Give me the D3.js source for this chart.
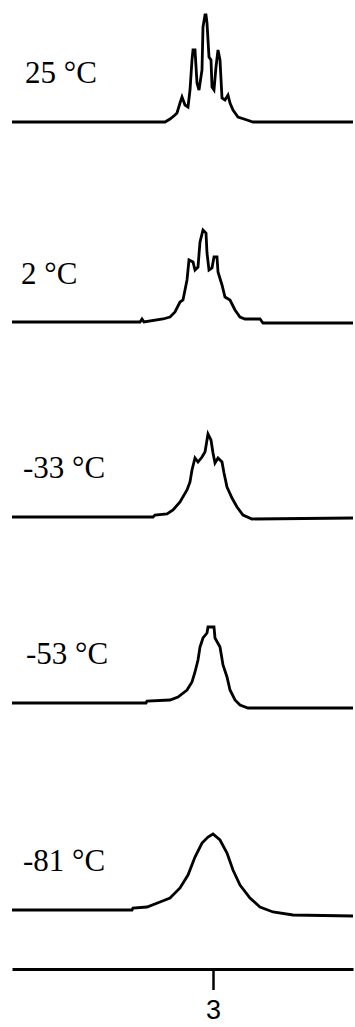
<!DOCTYPE html>
<meta charset="utf-8">
<title>Variable temperature spectra</title>
<script src="https://d3js.org/d3.v7.min.js"></script>
<style>
  body { margin: 0; background: #fff; }
</style>
<body>
<svg width="355" height="1027"></svg>
<script>

// temperatures, top to bottom
var temps = ["25 °C", "2 °C", "-33 °C", "-53 °C", "-81 °C"];

// each trace: [shift (ppm), intensity above its left baseline]
var t25 = [[5.01,0],[3.48,0],[3.43,3],[3.38,7],[3.36,9],[3.33,19],[3.31,25],[3.28,17],[3.25,15],
  [3.23,32],[3.21,62],[3.20,72],[3.18,72],[3.16,39],[3.14,32],[3.11,52],[3.10,95],[3.08,107],
  [3.07,107],[3.06,99],[3.04,65],[3.02,62],[3.01,35],[2.99,32],[2.97,55],[2.95,72],[2.93,62],
  [2.91,24],[2.88,22],[2.85,27],[2.83,19],[2.80,12],[2.75,5],[2.66,2],[2.60,0],[1.60,0]];
var t2 = [[5.01,1],[3.73,1],[3.71,4],[3.69,1],[3.50,4],[3.43,6],[3.38,11],[3.33,21],[3.30,23],
  [3.28,33],[3.26,43],[3.25,53],[3.24,63],[3.20,61],[3.18,53],[3.15,56],[3.13,81],[3.10,93],
  [3.07,90],[3.06,70],[3.04,53],[3.01,55],[2.99,66],[2.96,66],[2.95,51],[2.91,38],[2.88,26],
  [2.83,23],[2.78,13],[2.73,6],[2.68,4],[2.53,4],[2.50,0],[1.60,0]];
var tm33 = [[5.01,0],[3.60,0],[3.58,2],[3.46,3],[3.40,7],[3.33,15],[3.26,27],[3.23,35],[3.21,47],
  [3.18,59],[3.15,55],[3.11,60],[3.08,65],[3.06,77],[3.05,83],[3.02,77],[3.00,64],[2.98,54],
  [2.95,59],[2.91,55],[2.89,44],[2.86,30],[2.81,19],[2.76,10],[2.70,2],[2.61,-2],[1.60,-1]];
var tm53 = [[5.01,0],[3.67,0],[3.66,2],[3.43,3],[3.35,6],[3.26,13],[3.21,21],[3.18,31],[3.15,43],
  [3.13,56],[3.10,65],[3.06,70],[3.05,76],[2.99,76],[2.98,65],[2.93,56],[2.90,38],[2.86,26],
  [2.83,13],[2.78,3],[2.73,-2],[2.65,-5],[1.60,-5]];
var tm81 = [[5.01,0],[3.81,0],[3.80,2],[3.66,3],[3.53,8],[3.43,12],[3.33,22],[3.25,35],[3.18,53],
  [3.11,67],[3.05,73],[3.00,76],[2.93,70],[2.86,57],[2.80,40],[2.73,25],[2.63,12],[2.53,3],
  [2.40,-2],[2.20,-5],[1.60,-6]];

var traces = [t25, t2, tm33, tm53, tm81];
var axisTicks = [3];

// layout
var svg = d3.select("svg");
var baselines = [122, 323, 517, 703, 910];
var axisY = 969;

var x = d3.scaleLinear()
    .domain([5.01, 1.60])
    .range([12, 353]);

var line = d3.line();

traces.forEach(function(tr, i) {
  var y = d3.scaleLinear()
      .domain([0, 110])
      .range([baselines[i], baselines[i] - 110]);

  line.x(function(d) { return x(d[0]); })
      .y(function(d) { return y(d[1]); });

  svg.append("path")
      .datum(tr)
      .attr("fill", "none")
      .attr("stroke", "#000")
      .attr("stroke-width", 2.8)
      .attr("stroke-linejoin", "miter")
      .attr("d", line);

  svg.append("text")
      .attr("x", [25, 21, 23, 26, 23][i])
      .attr("y", baselines[i] - 39)
      .style("font-family", "'Liberation Serif', 'Times New Roman', serif")
      .style("font-size", "31px")
      .attr("fill", "#000")
      .text(temps[i]);
});

// ppm axis along the bottom
var xAxis = d3.axisBottom(x)
    .tickValues(axisTicks)
    .tickSizeInner(21)
    .tickSizeOuter(0)
    .tickPadding(10)
    .tickFormat(d3.format("d"));

var ax = svg.append("g")
    .attr("transform", "translate(0," + axisY + ")")
    .call(xAxis);

ax.select(".domain")
    .attr("stroke", "#000")
    .attr("stroke-width", 3);

ax.selectAll(".tick line")
    .attr("stroke", "#000")
    .attr("stroke-width", 2.5);

ax.selectAll(".tick text")
    .attr("fill", "#000")
    .style("font-family", "'Liberation Sans', Arial, sans-serif")
    .style("font-size", "27px");

</script>
</body>
